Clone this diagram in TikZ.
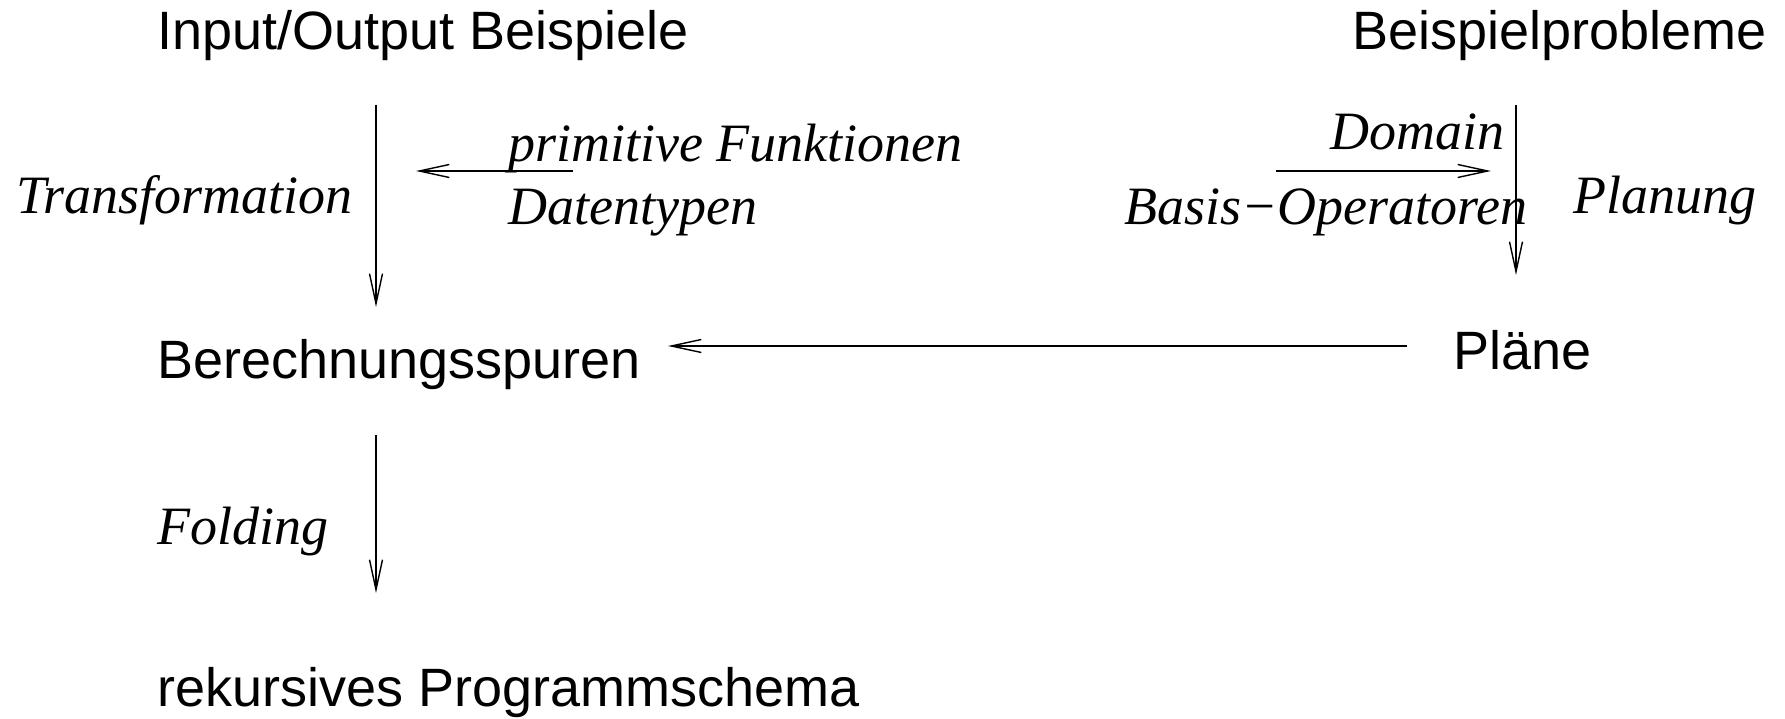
\documentclass[tikz,border=0pt]{standalone}
\usepackage{fontspec}
\setmainfont{Liberation Serif}
\newfontfamily\hv{Liberation Sans}
\usetikzlibrary{arrows.meta}
\begin{document}
\begin{tikzpicture}[x=1pt,y=-1pt,
  lbl/.style={inner sep=0pt, font=\hv\fontsize{54}{60}\selectfont},
  itl/.style={inner sep=0pt, font=\itshape\fontsize{54}{60}\selectfont},
  arr/.style={line width=1.4pt, -{Straight Barb[length=30pt,width=13pt,line width=1.4pt]}}]
\useasboundingbox (0,0) rectangle (1785,719);
% main labels
\node[lbl, anchor=base west] (io) at (157,50) {Input/Output Beispiele};
\node[lbl, anchor=base east] (bp) at (1767,50) {Beispielprobleme};
\node[lbl, anchor=base west] (bs) at (157,378) {Berechnungsspuren};
\node[lbl, anchor=base west] (pl) at (1453,369) {Pläne};
\node[lbl, anchor=base west] (rp) at (157,706) {rekursives Programmschema};
% italic labels
\node[itl, anchor=base west] (tr) at (16,214) {Transformation};
\node[itl, anchor=base west] (pf) at (508,162) {primitive Funktionen};
\node[itl, anchor=base west] (dt) at (508,225) {Datentypen};
\node[itl, anchor=base east] (dm) at (1505,150) {Domain};
\node[itl, anchor=base west] (bo) at (1124,225) {Basis−Operatoren};
\node[itl, anchor=base west] (pn) at (1573,214) {Planung};
\node[itl, anchor=base west] (fo) at (157,544) {Folding};
% connector end points
\coordinate (a1s) at (376,105);
\coordinate (a1e) at (376,307);
\coordinate (a2s) at (376,435);
\coordinate (a2e) at (376,593);
\coordinate (h1s) at (573,171);
\coordinate (h1e) at (416,171);
\coordinate (h2s) at (1276,171);
\coordinate (h2e) at (1491,171);
\coordinate (a3s) at (1516,105);
\coordinate (a3e) at (1516,275);
\coordinate (h3s) at (1407,346);
\coordinate (h3e) at (668,346);
% connectors
\draw[arr] (a1s) -- (a1e);
\draw[arr] (a2s) -- (a2e);
\draw[arr] (h1s) -- (h1e);
\draw[arr] (h2s) -- (h2e);
\draw[arr] (a3s) -- (a3e);
\draw[arr] (h3s) -- (h3e);
\end{tikzpicture}
\end{document}
